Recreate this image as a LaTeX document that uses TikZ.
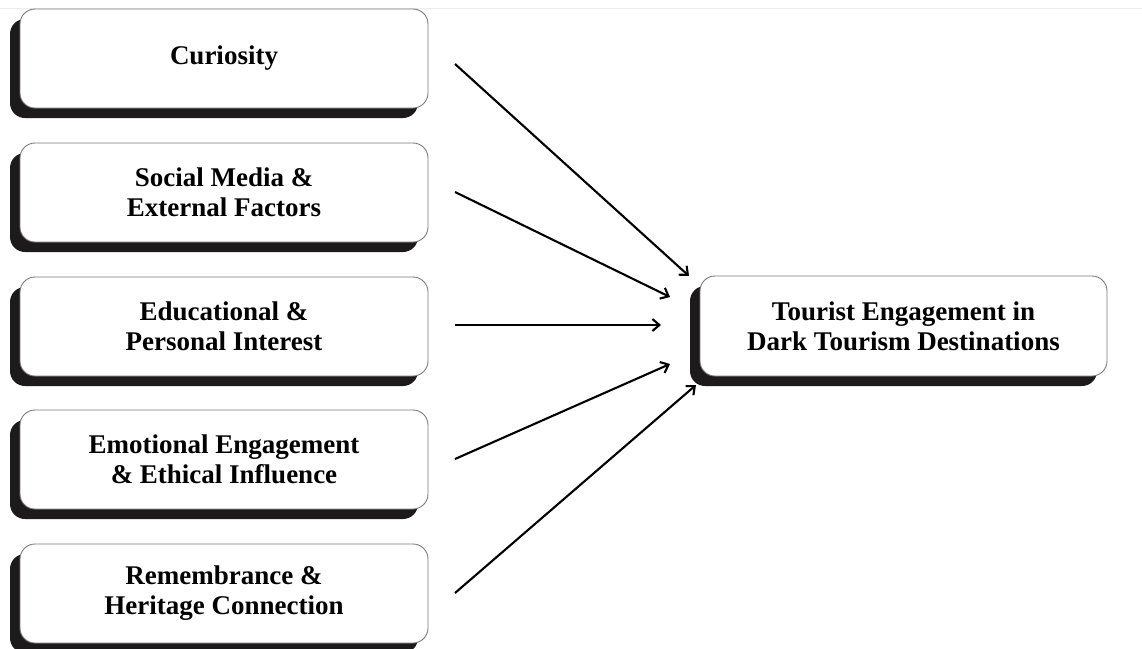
\documentclass[tikz,border=0pt]{standalone}
\usepackage{fontspec}
\setmainfont{Liberation Serif}
\usetikzlibrary{arrows.meta,shadows,calc}
\definecolor{shadowc}{HTML}{1C1A1A}
\definecolor{edgec}{HTML}{7A7A7A}
\tikzset{
  box/.style={draw=edgec, line width=0.9pt, fill=white, rounded corners=15pt,
    minimum width=408pt, minimum height=99pt, align=center, inner sep=0pt,
    font=\bfseries\fontsize{27}{30}\selectfont,
    drop shadow={shadow xshift=-10pt, shadow yshift=-10pt, fill=shadowc, opacity=1}},
  conn/.style={line width=2.1pt, -{Straight Barb[length=7pt,width=12pt,line width=2.1pt]}}
}
\begin{document}
\begin{tikzpicture}[x=1pt,y=-1pt]
\useasboundingbox (0,0) rectangle (1142,648);
\draw[line width=0.8pt, black!7] (0,8) -- (1142,8);
\node[box] (c1) at (224,58.5) {Curiosity};
\node[box] (c2) at (224,192.5) {Social Media \&\\External Factors};
\node[box] (c3) at (224,326.5) {Educational \&\\Personal Interest};
\node[box] (c4) at (224,459.5) {Emotional Engagement\\\& Ethical Influence};
\node[box] (c5) at (224,593.5) {Remembrance \&\\Heritage Connection};
\node[box, minimum width=407pt, minimum height=100pt] (t) at (903.5,326) {Tourist Engagement in\\Dark Tourism Destinations};
\coordinate (s1) at (455,64);
\coordinate (s2) at (455,192);
\coordinate (s3) at (455,325);
\coordinate (s4) at (455,459);
\coordinate (s5) at (455,593);
\coordinate (e1) at (689,276);
\coordinate (e2) at (670,297);
\coordinate (e3) at (661,325);
\coordinate (e4) at (670,364);
\coordinate (e5) at (696,385);
\draw[conn] (s1) -- (e1);
\draw[conn] (s2) -- (e2);
\draw[conn] (s3) -- (e3);
\draw[conn] (s4) -- (e4);
\draw[conn] (s5) -- (e5);
\end{tikzpicture}
\end{document}
